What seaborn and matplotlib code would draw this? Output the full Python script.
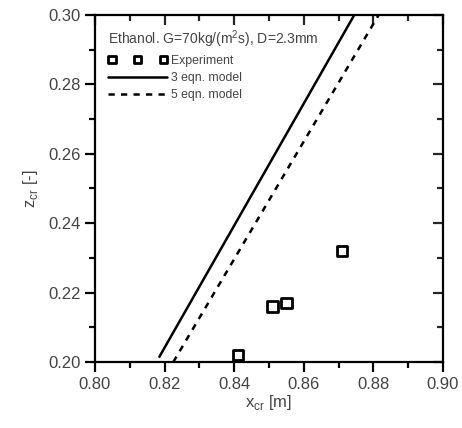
import matplotlib

matplotlib.use("Agg")

import matplotlib.pyplot as plt
import numpy as np
import pandas as pd
import seaborn as sns

# experiment points
exp_x = [0.841, 0.851, 0.855, 0.871]
exp_z = [0.202, 0.216, 0.217, 0.232]

# model lines (end points)
eq3_x = [0.8185, 0.8745]
eq3_z = [0.2015, 0.300]
eq5_x = [0.8225, 0.8815]
eq5_z = [0.2000, 0.300]

x_ticks = [0.80, 0.82, 0.84, 0.86, 0.88, 0.90]
y_ticks = [0.20, 0.22, 0.24, 0.26, 0.28, 0.30]

TEXT = "#444444"

sns.set_style("ticks")
plt.rcParams["font.family"] = ["Liberation Sans", "DejaVu Sans"]

fig = plt.figure(figsize=(4.62, 4.28), dpi=100)
ax = fig.add_axes([0.2056, 0.1542, 0.7533, 0.8108])

sns.lineplot(x=eq3_x, y=eq3_z, ax=ax, color="black", lw=1.8,
             label="3 eqn. model", sort=False)
sns.lineplot(x=eq5_x, y=eq5_z, ax=ax, color="black", lw=1.8,
             linestyle=(0, (2.5, 2.5)), label="5 eqn. model", sort=False)
sns.scatterplot(x=exp_x, y=exp_z, ax=ax, marker="s", s=55,
                facecolor="none", edgecolor="black", linewidth=2,
                label="Experiment", zorder=5, clip_on=False)

ax.set_xlim(0.80, 0.90)
ax.set_ylim(0.20, 0.30)
ax.set_xticks(x_ticks)
ax.set_yticks(y_ticks)
ax.set_xticklabels([f"{v:.2f}" for v in x_ticks])
ax.set_yticklabels([f"{v:.2f}" for v in y_ticks])
ax.xaxis.set_minor_locator(matplotlib.ticker.MultipleLocator(0.01))
ax.yaxis.set_minor_locator(matplotlib.ticker.MultipleLocator(0.01))

for side in ["top", "right", "left", "bottom"]:
    ax.spines[side].set_visible(True)
    ax.spines[side].set_linewidth(1.6)
    ax.spines[side].set_color("black")

ax.tick_params(which="both", direction="out", width=1.6, color="black",
               labelsize=12, labelcolor=TEXT)
ax.tick_params(which="major", length=7)
ax.tick_params(which="minor", length=4)

# mirrored inward ticks on top and right
ax_top = ax.secondary_xaxis("top")
ax_top.set_xticks(x_ticks)
ax_top.xaxis.set_minor_locator(matplotlib.ticker.MultipleLocator(0.01))
ax_top.tick_params(which="both", direction="in", width=1.6, labeltop=False)
ax_top.tick_params(which="major", length=7)
ax_top.tick_params(which="minor", length=4)
ax_right = ax.secondary_yaxis("right")
ax_right.set_yticks(y_ticks)
ax_right.yaxis.set_minor_locator(matplotlib.ticker.MultipleLocator(0.01))
ax_right.tick_params(which="both", direction="in", width=1.6, labelright=False)
ax_right.tick_params(which="major", length=7)
ax_right.tick_params(which="minor", length=4)
ax_top.spines["top"].set_visible(False)
ax_right.spines["right"].set_visible(False)

ax.set_xlabel(r"x$_{\mathregular{cr}}$ [m]", fontsize=12, color=TEXT, labelpad=1)
ax.set_ylabel(r"z$_{\mathregular{cr}}$ [-]", fontsize=12, color=TEXT, labelpad=6)

handles, labels = ax.get_legend_handles_labels()
order = [labels.index("Experiment"), labels.index("3 eqn. model"),
         labels.index("5 eqn. model")]
leg = ax.legend([handles[i] for i in order], [labels[i] for i in order],
                title=r"Ethanol. G=70kg/(m$^{\mathregular{2}}$s), D=2.3mm",
                loc="upper left", bbox_to_anchor=(0.0, 1.0),
                frameon=False, fontsize=8.8, title_fontsize=10,
                scatterpoints=3, scatteryoffsets=[0.5], markerscale=0.7,
                handlelength=4.8, handletextpad=0.3,
                labelspacing=0.42, alignment="left", borderpad=0.6)
leg.get_title().set_color(TEXT)
for t in leg.get_texts():
    t.set_color(TEXT)

fig.savefig("out.png", dpi=100)
